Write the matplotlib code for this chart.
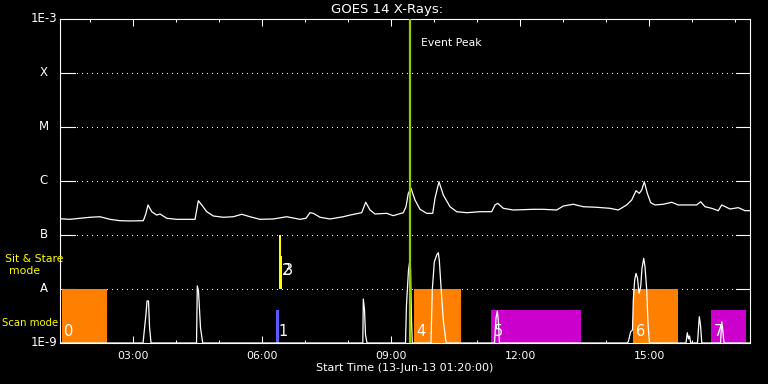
import matplotlib
matplotlib.use('Agg')
import matplotlib.pyplot as plt
import matplotlib.transforms as mtransforms
from matplotlib.ticker import NullLocator, FixedLocator

# ---------------- data ----------------
# GOES 14 long channel flux, units of 1e-7 W/m^2, time in hours (13-Jun-2013)
goes_hours = [1.302, 1.535, 1.767, 2.000, 2.233, 2.465, 2.698, 2.930, 3.240, 3.302,
              3.349, 3.435, 3.551, 3.628, 3.784, 4.016, 4.442, 4.481, 4.519, 4.598,
              4.714, 4.867, 5.100, 5.333, 5.528, 5.721, 5.953, 6.263, 6.574, 6.884,
              7.023, 7.116, 7.193, 7.349, 7.581, 7.891, 8.047, 8.319, 8.412, 8.512,
              8.628, 8.900, 9.053, 9.286, 9.349, 9.402, 9.465, 9.558, 9.674, 9.830,
              9.970, 10.023, 10.116, 10.216, 10.372, 10.528, 10.760, 11.070, 11.342, 11.419,
              11.481, 11.612, 11.844, 12.309, 12.542, 12.853, 13.007, 13.240, 13.472, 13.784,
              14.093, 14.286, 14.481, 14.598, 14.698, 14.774, 14.830, 14.891, 14.960, 15.040,
              15.140, 15.333, 15.528, 15.681, 16.109, 16.202, 16.302, 16.458, 16.612, 16.691,
              16.884, 17.077, 17.233, 17.349]
goes_flux_e7 = [2.00, 1.95, 2.04, 2.13, 2.18, 1.95, 1.84, 1.82, 1.84, 2.52,
                3.60, 2.70, 2.34, 2.45, 2.04, 1.95, 1.95, 2.90, 4.32, 3.60,
                2.70, 2.25, 2.13, 2.18, 2.42, 2.18, 1.95, 1.98, 2.18, 1.95,
                2.04, 2.59, 2.52, 2.13, 1.98, 2.18, 2.34, 2.59, 4.04, 2.90,
                2.45, 2.52, 2.28, 2.59, 3.34, 5.92, 7.33, 4.45, 2.99, 2.52,
                2.52, 4.79, 9.70, 5.51, 3.34, 2.70, 2.59, 2.70, 2.70, 3.60,
                3.86, 3.12, 2.90, 2.99, 2.99, 2.90, 3.44, 3.71, 3.34, 3.26,
                3.12, 2.90, 3.60, 4.45, 6.61, 5.92, 6.81, 9.70, 5.92, 3.96,
                3.60, 3.71, 4.04, 3.60, 3.60, 4.14, 3.34, 3.12, 2.82, 3.60,
                3.03, 3.21, 2.82, 2.82]

# lower light-curve trace, units of 1e-9 (1.0 = bottom of the plot)
spike_hours = [1.302,
               3.233, 3.302, 3.326, 3.360, 3.384, 3.419,
               4.477, 4.495, 4.523, 4.570, 4.621,
               8.344, 8.356, 8.384, 8.407, 8.442,
               9.337, 9.360, 9.384, 9.407, 9.430, 9.453, 9.477, 9.495,
               9.930, 9.960, 10.007, 10.063, 10.100, 10.123, 10.163, 10.216, 10.272, 10.291,
               11.407, 11.442, 11.472, 11.495, 11.523,
               14.488, 14.519, 14.574, 14.616, 14.635, 14.667, 14.698, 14.733, 14.767, 14.807,
               14.837, 14.877, 14.907, 14.947, 14.977, 15.007, 15.023,
               15.860, 15.891, 15.919, 15.942, 15.970,
               16.128, 16.170, 16.198, 16.228,
               16.663, 16.691, 16.716, 16.744,
               17.349]
spike_flux_e9 = [1.0,
                 1.0, 3.44, 6.0, 6.0, 1.98, 1.0,
                 1.0, 11.4, 9.18, 1.90, 1.0,
                 1.0, 6.53, 4.08, 1.41, 1.0,
                 1.0, 5.05, 10.9, 22.5, 30.3, 24.5, 2.67, 1.0,
                 1.0, 9.58, 31.6, 42.6, 47.0, 34.4, 10.9, 2.67, 1.14, 1.0,
                 1.0, 2.90, 3.91, 2.67, 1.0,
                 1.0, 1.06, 1.62, 1.74, 6.25, 14.7, 19.5, 15.8, 8.32, 11.0,
                 24.2, 37.0, 25.9, 9.58, 2.32, 1.06, 1.0,
                 1.0, 1.55, 1.19, 1.35, 1.0,
                 1.0, 3.07, 2.15, 1.0,
                 1.0, 2.48, 1.74, 1.0,
                 1.0]

# observation windows
obs_labels = ['0', '1', '2', '3', '4', '5', '6', '7']
obs_start = [1.340, 6.326, 6.395, 6.442, 9.535, 11.326, 14.635, 16.442]
obs_end = [2.388, 6.388, 6.442, 6.472, 10.628, 13.412, 15.667, 17.256]
obs_mode = ['scan', 'scan', 'sit', 'sit', 'scan', 'scan', 'scan', 'scan']
obs_bottom = [1e-9, 1e-9, 1e-8, 1e-8, 1e-9, 1e-9, 1e-9, 1e-9]
obs_top = [1e-8, 4.08e-9, 1e-7, 4.08e-8, 1e-8, 4.08e-9, 1e-8, 4.08e-9]
obs_color = ['#ff8000', '#5a5aff', '#ffff00', '#ffff00', '#ff8000', '#cc00cc', '#ff8000', '#cc00cc']

event_peak_hour = 9.442

level_values = [1e-9, 1e-8, 1e-7, 1e-6, 1e-5, 1e-4, 1e-3]
level_labels = ['1E-9', 'A', 'B', 'C', 'M', 'X', '1E-3']

xtick_hours = [3, 6, 9, 12, 15]
xtick_labels = ['03:00', '06:00', '09:00', '12:00', '15:00']
xminor_hours = [2, 4, 5, 7, 8, 10, 11, 13, 14, 16, 17]
x_range = (1.302, 17.349)

# ---------------- figure ----------------
plt.rcParams['font.family'] = ['DejaVu Sans']
W, H = 768, 384
fig = plt.figure(figsize=(W / 100, H / 100), dpi=100, facecolor='black')
ax = fig.add_axes([60 / W, 41 / H, 690 / W, 324 / H], facecolor='black')
ax.set_yscale('log')
ax.set_xlim(*x_range)
ax.set_ylim(level_values[0], level_values[-1])

for s in ax.spines.values():
    s.set_color('white')
    s.set_linewidth(0.8)

ax.yaxis.set_major_locator(NullLocator())
ax.yaxis.set_minor_locator(NullLocator())
ax.xaxis.set_major_locator(FixedLocator(xtick_hours))
ax.set_xticklabels(xtick_labels)
ax.xaxis.set_minor_locator(FixedLocator(xminor_hours))
ax.tick_params(axis='x', which='both', direction='in', top=True, bottom=True,
               colors='white', width=0.75, labelsize=7.8, pad=6)
ax.tick_params(axis='x', which='major', length=5)
ax.tick_params(axis='x', which='minor', length=2.5)

# level lines: solid stubs at both ends, dotted in between
bt = mtransforms.blended_transform_factory(ax.transAxes, ax.transData)
left_stub = 15 / 690
right_stub = 14 / 690
for lev in level_values[1:-1]:
    ax.plot([0, left_stub], [lev, lev], color='white', lw=0.8, transform=bt, zorder=1)
    ax.plot([1 - right_stub, 1], [lev, lev], color='white', lw=0.8, transform=bt, zorder=1)
    ax.plot([left_stub + 0.003, 1 - right_stub], [lev, lev], color='white', lw=0.72,
            linestyle=(0, (1, 5)), transform=bt, zorder=1, antialiased=False)

# level labels on the left
lt = mtransforms.blended_transform_factory(fig.transFigure, ax.transData)
for lev, lab in zip(level_values, level_labels):
    if lab.startswith('1E'):
        ax.text(57 / W, lev, lab, transform=lt, ha='right', va='center',
                color='white', fontsize=8.5, clip_on=False)
    else:
        ax.text(44 / W, lev, lab, transform=lt, ha='center', va='center',
                color='white', fontsize=8.5, clip_on=False)

# observation windows
for lab, t0, t1, mode, b, t, c in zip(obs_labels, obs_start, obs_end, obs_mode,
                                      obs_bottom, obs_top, obs_color):
    ax.bar(t0, t - b, bottom=b, width=t1 - t0, align='edge', color=c,
           edgecolor='none', linewidth=0, zorder=2)

# light curves
ax.plot(goes_hours, [v * 1e-7 for v in goes_flux_e7], color='white', lw=0.9, zorder=3)
ax.plot(spike_hours, [v * 1e-9 for v in spike_flux_e9], color='white', lw=0.9, zorder=3)

# observation labels
for lab, t0, mode, b in zip(obs_labels, obs_start, obs_mode, obs_bottom):
    dy = 8.0 if mode == 'sit' else 3.0
    ax.annotate(lab, (t0, b), xytext=(2.0, dy), textcoords='offset points',
                ha='left', va='bottom', color='white', fontsize=10.5, zorder=6)

# event peak
ax.axvline(event_peak_hour, color='#99cc00', lw=1.6, zorder=4)
ax.annotate('Event Peak', (event_peak_hour, level_values[-1]), xytext=(7.7, -17.3),
            textcoords='offset points', ha='left', va='center', color='white',
            fontsize=7.8, zorder=6)

# titles and side labels
fig.text(387 / W, 1 - 9 / H, 'GOES 14 X-Rays:', ha='center', va='center',
         color='white', fontsize=9.5)
fig.text(405 / W, 1 - 368 / H, 'Start Time (13-Jun-13 01:20:00)', ha='center',
         va='center', color='white', fontsize=8)
fig.text(34.5 / W, 1 - 258.5 / H, 'Sit & Stare', ha='center', va='center',
         color='#ffff00', fontsize=7.8)
fig.text(25 / W, 1 - 271 / H, 'mode', ha='center', va='center',
         color='#ffff00', fontsize=7.8)
fig.text(2 / W, 1 - 323.5 / H, 'Scan mode', ha='left', va='center',
         color='#ffff00', fontsize=7.3)

fig.savefig('out.png', dpi=100, facecolor='black')
